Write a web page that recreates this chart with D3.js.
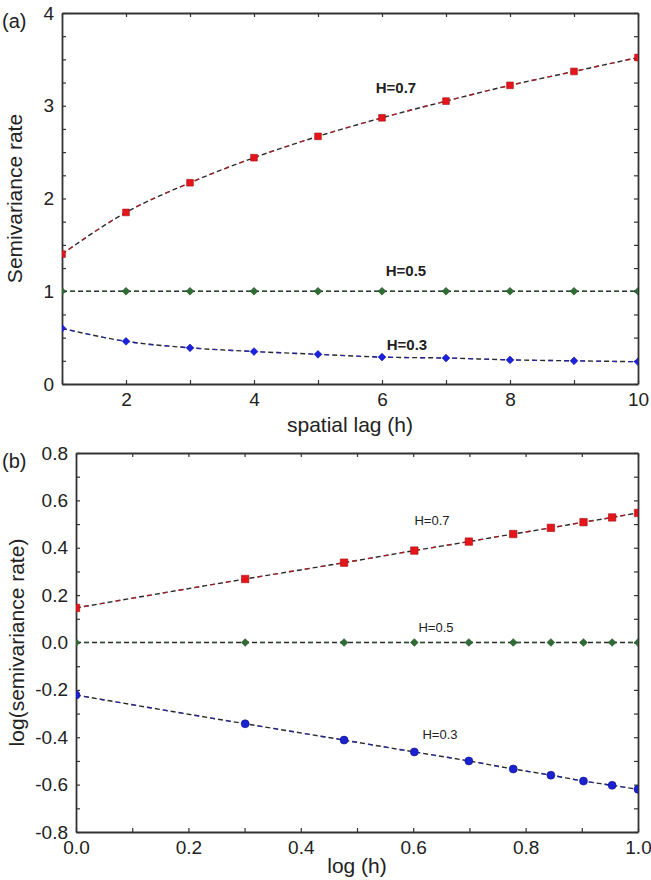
<!DOCTYPE html>
<html>
<head>
<meta charset="utf-8">
<script src="https://cdn.jsdelivr.net/npm/d3@7"></script>
<style>
  body { margin: 0; background: #fff; }
  text { font-family: "Liberation Sans", Arial, sans-serif; fill: #222; }
</style>
</head>
<body>
<div id="chart"></div>
<script>
// panel (a): lag h and semivariance rate
const lagA = [1, 2, 3, 4, 5, 6, 7, 8, 9, 10];
const h07A = [1.40, 1.85, 2.17, 2.44, 2.67, 2.87, 3.05, 3.22, 3.37, 3.52];
const h05A = [1, 1, 1, 1, 1, 1, 1, 1, 1, 1];
const h03A = [0.60, 0.46, 0.39, 0.35, 0.32, 0.29, 0.28, 0.26, 0.25, 0.24];
// panel (b): log h and log(semivariance rate)
const lagB = [0, 0.301, 0.477, 0.602, 0.699, 0.778, 0.845, 0.903, 0.954, 1.0];
const h07B = [0.146, 0.268, 0.337, 0.388, 0.426, 0.458, 0.484, 0.508, 0.528, 0.547];
const h05B = [0, 0, 0, 0, 0, 0, 0, 0, 0, 0];
const h03B = [-0.222, -0.343, -0.412, -0.462, -0.500, -0.534, -0.560, -0.585, -0.603, -0.620];

const ticksAx = [2, 4, 6, 8, 10];
const ticksAy = [0, 1, 2, 3, 4];
const ticksBx = [0, 0.2, 0.4, 0.6, 0.8, 1.0];
const ticksBy = [-0.8, -0.6, -0.4, -0.2, 0, 0.2, 0.4, 0.6, 0.8];

const svg = d3.select("#chart").append("svg")
    .attr("width", 651).attr("height", 880);

const axisColor = "#333";
// 用普通连字符代替 unicode 负号
const fmt1 = v => d3.format(".1f")(v).replace("\u2212", "-");

// 小菱形：旋转 45 度的正方形
const smallDiamond = {
    draw(ctx, size) {
        const r = Math.sqrt(size / 2);
        ctx.moveTo(0, -r); ctx.lineTo(r, 0); ctx.lineTo(0, r); ctx.lineTo(-r, 0); ctx.closePath();
    }
};

function panel(opt) {
    const g = svg.append("g");
    const x = d3.scaleLinear().domain(opt.xDomain).range([opt.left, opt.right]);
    const y = d3.scaleLinear().domain(opt.yDomain).range([opt.bottom, opt.top]);

    const clipId = "clip" + opt.name;
    svg.append("clipPath").attr("id", clipId).append("rect")
        .attr("x", opt.left).attr("y", opt.top)
        .attr("width", opt.right - opt.left).attr("height", opt.bottom - opt.top);

    // 四边的刻度，朝内
    const tl = 4;
    g.append("g").attr("transform", `translate(0,${opt.bottom})`)
        .call(d3.axisBottom(x).tickValues(opt.xMinor).tickSizeInner(-tl).tickSizeOuter(0).tickFormat(""));
    g.append("g").attr("transform", `translate(0,${opt.bottom})`)
        .call(d3.axisBottom(x).tickValues(opt.xTicks).tickSize(0).tickPadding(9).tickFormat(opt.xFmt))
        .call(a => a.select(".domain").remove());
    g.append("g").attr("transform", `translate(0,${opt.top})`)
        .call(d3.axisTop(x).tickValues(opt.xMinor).tickSizeInner(-tl).tickSizeOuter(0).tickFormat(""));
    g.append("g").attr("transform", `translate(${opt.left},0)`)
        .call(d3.axisLeft(y).tickValues(opt.yMinor).tickSizeInner(-tl).tickSizeOuter(0).tickFormat(""));
    g.append("g").attr("transform", `translate(${opt.left},0)`)
        .call(d3.axisLeft(y).tickValues(opt.yTicks).tickSize(0).tickPadding(8).tickFormat(opt.yFmt))
        .call(a => a.select(".domain").remove());
    g.append("g").attr("transform", `translate(${opt.right},0)`)
        .call(d3.axisRight(y).tickValues(opt.yMinor).tickSizeInner(-tl).tickSizeOuter(0).tickFormat(""));

    g.selectAll(".domain").attr("stroke", axisColor).attr("stroke-width", 1.8);
    g.selectAll(".tick line").attr("stroke", axisColor).attr("stroke-width", 1.2);
    g.selectAll(".tick text").style("font-size", "19px").attr("fill", "#222");

    const line = d3.line().x(d => x(d[0])).y(d => y(d[1])).curve(d3.curveMonotoneX);
    const plot = g.append("g").attr("clip-path", `url(#${clipId})`);

    opt.series.forEach(s => {
        const pts = opt.xs.map((v, i) => [v, s.values[i]]);
        plot.append("path").datum(pts)
            .attr("fill", "none").attr("stroke", "#2a2a2a")
            .attr("stroke-width", 1.4).attr("stroke-dasharray", "5,3")
            .attr("d", line);
        plot.append("path").datum(pts)
            .attr("fill", "none").attr("stroke", s.color)
            .attr("stroke-width", 1.4).attr("stroke-dasharray", "5,11")
            .attr("stroke-dashoffset", 8).attr("opacity", 0.6)
            .attr("d", line);
        plot.selectAll(null).data(pts).enter().append("path")
            .attr("transform", d => `translate(${x(d[0])},${y(d[1])})`)
            .attr("d", d3.symbol().type(s.shape).size(s.size))
            .attr("fill", s.color).attr("stroke", s.edge).attr("stroke-width", 0.6);
    });

    opt.labels.forEach(l => {
        g.append("text").attr("x", l.x).attr("y", l.y)
            .attr("text-anchor", "middle")
            .style("font-size", l.size).style("font-weight", l.weight)
            .text(l.text);
    });

    g.append("text").attr("x", (opt.left + opt.right) / 2).attr("y", opt.bottom + opt.xTitleDy)
        .attr("text-anchor", "middle").style("font-size", "21px").text(opt.xTitle);
    g.append("text")
        .attr("transform", `translate(${opt.yTitleX},${(opt.top + opt.bottom) / 2}) rotate(-90)`)
        .attr("text-anchor", "middle").style("font-size", "21px").text(opt.yTitle);
    g.append("text").attr("x", 2).attr("y", opt.top + 15)
        .style("font-size", "20px").text(opt.tag);
}

panel({
    name: "A", tag: "(a)",
    left: 62, right: 638, top: 13, bottom: 384,
    xDomain: [1, 10], yDomain: [0, 4],
    xTicks: ticksAx, yTicks: ticksAy,
    xMinor: d3.range(1, 11), yMinor: d3.range(0, 4.01, 0.25),
    xFmt: d3.format("d"), yFmt: d3.format("d"),
    xs: lagA,
    series: [
        {values: h07A, color: "#e8141b", edge: "#a01010", shape: d3.symbolSquare, size: 45},
        {values: h05A, color: "#2f6b35", edge: "#1d4a22", shape: smallDiamond, size: 30},
        {values: h03A, color: "#1a22e0", edge: "#1010a0", shape: smallDiamond, size: 30}
    ],
    labels: [
        {text: "H=0.7", x: 396, y: 93, size: "15px", weight: "bold"},
        {text: "H=0.5", x: 406, y: 276, size: "15px", weight: "bold"},
        {text: "H=0.3", x: 407, y: 350, size: "15px", weight: "bold"}
    ],
    xTitle: "spatial lag (h)", xTitleDy: 48, yTitle: "Semivariance rate", yTitleX: 22
});

panel({
    name: "B", tag: "(b)",
    left: 76, right: 638, top: 453, bottom: 832,
    xDomain: [0, 1], yDomain: [-0.8, 0.8],
    xTicks: ticksBx, yTicks: ticksBy,
    xMinor: d3.range(0, 1.001, 0.1), yMinor: d3.range(-0.8, 0.801, 0.1),
    xFmt: fmt1, yFmt: fmt1,
    xs: lagB,
    series: [
        {values: h07B, color: "#e8141b", edge: "#a01010", shape: d3.symbolSquare, size: 55},
        {values: h05B, color: "#2f6b35", edge: "#1d4a22", shape: smallDiamond, size: 30},
        {values: h03B, color: "#1a22d0", edge: "#10108a", shape: d3.symbolCircle, size: 50}
    ],
    labels: [
        {text: "H=0.7", x: 432, y: 525, size: "13px", weight: "normal"},
        {text: "H=0.5", x: 436, y: 632, size: "13px", weight: "normal"},
        {text: "H=0.3", x: 440, y: 739, size: "13px", weight: "normal"}
    ],
    xTitle: "log (h)", xTitleDy: 41, yTitle: "log(semivariance rate)", yTitleX: 24
});
</script>
</body>
</html>
